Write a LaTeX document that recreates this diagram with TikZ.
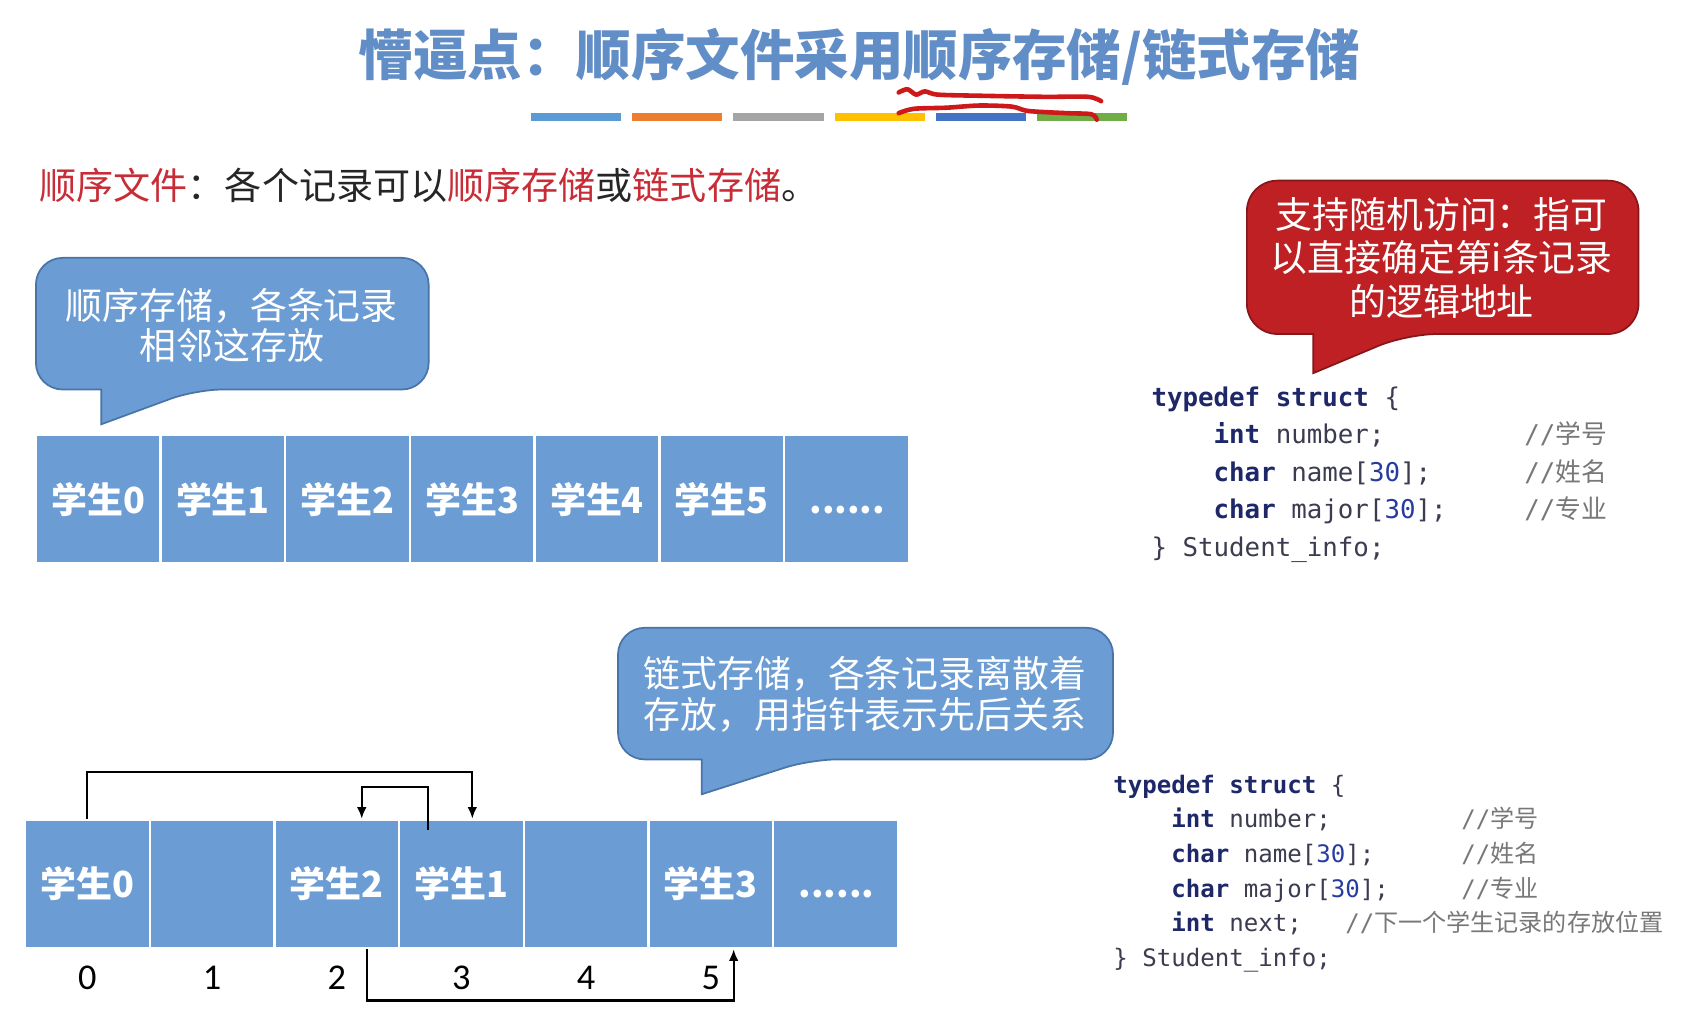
\documentclass[tikz,border=0pt]{standalone}
\usepackage{fontspec}
\setmainfont{Noto Sans CJK SC}
\setmonofont{DejaVu Sans Mono}
\newfontfamily\cjk{Noto Sans CJK SC}
\newfontfamily\numfont{Carlito}
\usetikzlibrary{arrows.meta}

\definecolor{cellblue}{RGB}{107,156,212}
\definecolor{tipedge}{RGB}{72,116,168}
\definecolor{tipred}{RGB}{190,32,36}
\definecolor{tipredge}{RGB}{135,22,26}
\definecolor{titleblue}{RGB}{98,142,200}
\definecolor{hlred}{RGB}{200,45,55}
\definecolor{kwnavy}{RGB}{30,40,105}
\definecolor{codegray}{RGB}{60,60,80}
\definecolor{cmtgray}{RGB}{120,120,120}
\definecolor{numblue}{RGB}{40,60,160}
\definecolor{scribred}{RGB}{205,25,25}
\definecolor{barblue}{RGB}{91,155,213}
\definecolor{barorange}{RGB}{237,125,49}
\definecolor{bargray}{RGB}{165,165,165}
\definecolor{baryellow}{RGB}{255,192,0}
\definecolor{bardark}{RGB}{68,114,196}
\definecolor{bargreen}{RGB}{112,173,71}

% code helpers
\newcommand\kw[1]{{\bfseries\color{kwnavy}#1}}
\newcommand\nm[1]{{\color{numblue}#1}}
\newcommand\cmt[1]{{\color{cmtgray}//{\cjk #1}}}
\newcommand\codeln[3][14.45]{\makebox[#1em][l]{\hspace*{2.408em}#2}#3}
\newcommand\moredots{\vphantom{学生}\kern0.05em......}

\begin{document}
\begin{tikzpicture}[x=0.02cm, y=-0.02cm,
    cell/.style={draw=white, line width=1.2pt, fill=cellblue, minimum width=2.292cm,
      minimum height=2.36cm, inner sep=0pt, text=white, font=\fontsize{18.8}{20}\selectfont\bfseries},
    bubble/.style={draw=tipedge, line width=0.9pt, fill=cellblue},
    redbubble/.style={draw=tipredge, line width=0.9pt, fill=tipred},
    tiptext/.style={text=white, align=center, inner sep=0pt, font=\fontsize{19.3}{21.3}\selectfont},
    idx/.style={inner sep=0pt, font=\fontsize{19}{20}\selectfont\numfont},
    link/.style={-{Latex[length=6pt,width=5pt]}, line width=1.1pt},
    code/.style={anchor=north west, align=left, inner sep=0pt, text=codegray},
    scrib/.style={scribred, line width=2.4pt, line cap=round, line join=round}
  ]
    \path[fill=white, use as bounding box] (0,0) rectangle (1568,935);

    % title
    \node[text=titleblue, font=\fontsize{28.5}{30}\selectfont\bfseries] (title) at (790,52)
      {懵逼点：顺序文件采用顺序存储/链式存储};
    \foreach \c [count=\k from 0] in {barblue,barorange,bargray,baryellow,bardark,bargreen}
      \fill[\c] (488+93*\k,104) rectangle ++(83,7);
    \draw[scrib] plot[smooth] coordinates {(826,85) (834,82) (842,87) (850,84) (862,87) (900,88) (960,89) (1000,89) (1012,93)};
    \draw[scrib] plot[smooth] coordinates {(826,104) (840,100) (870,99) (900,97) (930,98) (945,102) (980,104) (1003,105) (1008,110)};

    \node[anchor=west, inner sep=0pt, text=black!85, font=\fontsize{19.4}{21}\selectfont] (intro) at (36,170)
      {{\color{hlred}顺序文件}：各个记录可以{\color{hlred}顺序存储}或{\color{hlred}链式存储}。};

    % sequential storage
    \draw[bubble] (93,358) [rounded corners=14] -- (33,358) -- (33,237) -- (394,237) -- (394,358) -- (180,358) [sharp corners] -- (93,390) -- cycle;
    \node[tiptext] (seqtip) at (213,299) {顺序存储，各条记录\\相邻这存放};

    \foreach \t [count=\i from 0] in {学生0,学生1,学生2,学生3,学生4,学生5,\moredots}
      \node[cell] (s\i) at (90.3+114.6*\i,459) {\t};

    % random access note + struct
    \draw[redbubble] (1207,307) [rounded corners=16] -- (1146,307) -- (1146,166) -- (1506,166) -- (1506,307) -- (1293,307) [sharp corners] -- (1207,343) -- cycle;
    \node[tiptext, font=\fontsize{19.3}{22.8}\selectfont] (randtip) at (1325,237)
      {支持随机访问：指可\\以直接确定第i条记录\\的逻辑地址};

    \node[code, font=\fontsize{13.5}{19.6}\selectfont\ttfamily] (recA) at (1058,355) {%
      \kw{typedef struct} \{\\
      \codeln{\kw{int} number;}{\cmt{学号}}\\
      \codeln{\kw{char} name[\nm{30}];}{\cmt{姓名}}\\
      \codeln{\kw{char} major[\nm{30}];}{\cmt{专业}}\\
      \} Student\_info;};

    % linked storage
    \draw[bubble] (645,698) [rounded corners=14] -- (568,698) -- (568,577) -- (1023,577) -- (1023,698) -- (745,698) [sharp corners] -- (645,730) -- cycle;
    \node[tiptext] (linktip) at (795,638) {链式存储，各条记录离散着\\存放，用指针表示先后关系};

    \foreach \t [count=\i from 0] in {学生0,{},学生2,学生1,{},学生3,\moredots}
      \node[cell] (l\i) at (80.3+114.6*\i,812.5) {\t};
    \foreach \i in {0,...,5}
      \node[idx] (n\i) at (80.3+114.6*\i,899) {\i};

    \draw[link] (l0.north) -- ++(0,-43) -| ([xshift=0.2cm]l3.north);
    \draw[link] ([xshift=-0.62cm,yshift=-0.2cm]l3.north) -- ++(0,-39) -| ([xshift=0.46cm]l2.north);
    \draw[link] ([xshift=0.55cm]l2.south) -- ++(0,47) -| ([xshift=0.42cm]l5.south);

    \node[code, font=\fontsize{12.6}{18.1}\selectfont\ttfamily] (recB) at (1023,712) {%
      \kw{typedef struct} \{\\
      \codeln{\kw{int} number;}{\cmt{学号}}\\
      \codeln{\kw{char} name[\nm{30}];}{\cmt{姓名}}\\
      \codeln{\kw{char} major[\nm{30}];}{\cmt{专业}}\\
      \codeln[9.63]{\kw{int} next;}{\cmt{下一个学生记录的存放位置}}\\
      \} Student\_info;};
\end{tikzpicture}
\end{document}
